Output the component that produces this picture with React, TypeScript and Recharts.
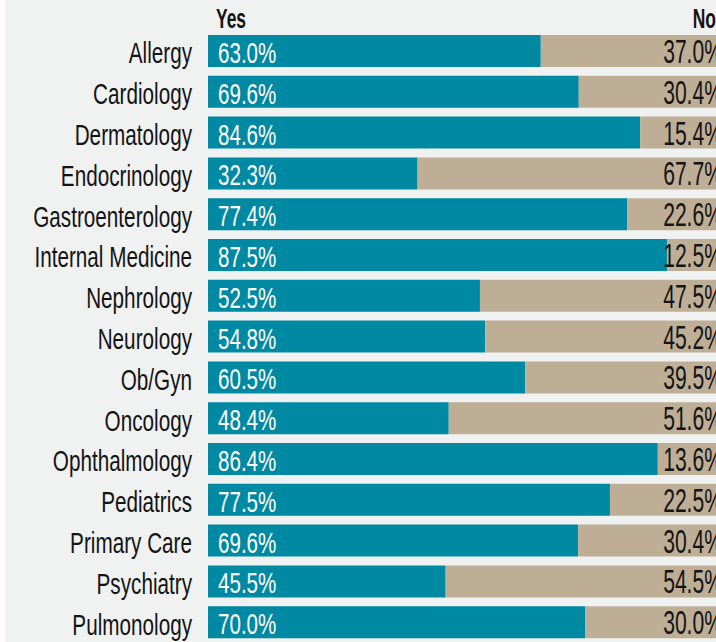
import { BarChart, Bar, XAxis, YAxis, LabelList } from 'recharts';

const FONT = '"Liberation Sans", Arial, sans-serif';
const TEAL = '#0089a3';
const TAN = '#bfae96';
const INK = '#141414';

const specialties = [
  'Allergy', 'Cardiology', 'Dermatology', 'Endocrinology', 'Gastroenterology',
  'Internal Medicine', 'Nephrology', 'Neurology', 'Ob/Gyn', 'Oncology',
  'Ophthalmology', 'Pediatrics', 'Primary Care', 'Psychiatry', 'Pulmonology',
];

// printed percentages
const yesLabels = ['63.0%', '69.6%', '84.6%', '32.3%', '77.4%', '87.5%', '52.5%', '54.8%', '60.5%', '48.4%', '86.4%', '77.5%', '69.6%', '45.5%', '70.0%'];
const noLabels = ['37.0%', '30.4%', '15.4%', '67.7%', '22.6%', '12.5%', '47.5%', '45.2%', '39.5%', '51.6%', '13.6%', '22.5%', '30.4%', '54.5%', '30.0%'];

// bar lengths as drawn (share of the full bar)
const yesBar = [64.0, 71.3, 83.1, 40.3, 80.6, 88.3, 52.3, 53.3, 61.0, 46.3, 86.5, 77.3, 71.2, 45.7, 72.5];
const noBar = [36.0, 28.7, 16.9, 59.7, 19.4, 11.7, 47.7, 46.7, 39.0, 53.7, 13.5, 22.7, 28.8, 54.3, 27.5];

const data = specialties.map((name, i) => ({
  name,
  yes: yesBar[i],
  no: noBar[i],
  yesLabel: yesLabels[i],
  noLabel: noLabels[i],
}));

// condensed look: squeeze a regular sans horizontally
const Narrow = ({ x, y, size, sx, anchor, fill, weight, children }: any) => (
  <text
    transform={`translate(${x},${y}) scale(${sx},1)`}
    x={0}
    y={0}
    textAnchor={anchor}
    fill={fill}
    fontSize={size}
    fontWeight={weight || 'normal'}
    fontFamily={FONT}
  >
    {children}
  </text>
);

const CategoryTick = ({ x, y, payload }: any) => (
  <Narrow x={Number(x) - 16} y={Number(y) + 12} size={30} sx={0.69} anchor="end" fill={INK}>
    {payload.value}
  </Narrow>
);

const YesLabel = (props: any) => (
  <Narrow x={Number(props.x) + 10} y={Number(props.y) + Number(props.height) / 2 + 12} size={29} sx={0.71} anchor="start" fill="#fff">
    {props.value}
  </Narrow>
);

const NoLabel = (props: any) => (
  <Narrow x={Number(props.x) + Number(props.width) - 5} y={Number(props.y) + Number(props.height) / 2 + 12} size={33} sx={0.64} anchor="end" fill={INK}>
    {props.value}
  </Narrow>
);

export default function App() {
  return (
    <div style={{ position: 'fixed', left: 0, top: 0, width: 716, height: 642, overflow: 'hidden', background: '#fff' }}>
      <div style={{ position: 'absolute', left: 5, top: 0, width: 711, height: 642, background: '#f0f1f1' }} />
      <div style={{ position: 'absolute', left: 5, top: 0 }}>
        <BarChart
          width={723}
          height={643}
          data={data}
          layout="vertical"
          margin={{ top: 31, right: 0, bottom: 0, left: 0 }}
        >
          <XAxis type="number" domain={[0, 100]} hide />
          <YAxis
            type="category"
            dataKey="name"
            width={203}
            axisLine={false}
            tickLine={false}
            tickSize={0}
            tickMargin={0}
            interval={0}
            tick={<CategoryTick />}
          />
          <Bar dataKey="yes" stackId="a" fill={TEAL} barSize={32} isAnimationActive={false}>
            <LabelList dataKey="yesLabel" content={<YesLabel />} />
          </Bar>
          <Bar dataKey="no" stackId="a" fill={TAN} barSize={32} isAnimationActive={false}>
            <LabelList dataKey="noLabel" content={<NoLabel />} />
          </Bar>
        </BarChart>
      </div>
      <svg width={716} height={34} style={{ position: 'absolute', left: 0, top: 0 }}>
        <Narrow x={216} y={28} size={27} sx={0.645} anchor="start" fill={INK} weight="bold">Yes</Narrow>
        <Narrow x={716} y={28} size={27} sx={0.645} anchor="end" fill={INK} weight="bold">No</Narrow>
      </svg>
    </div>
  );
}
